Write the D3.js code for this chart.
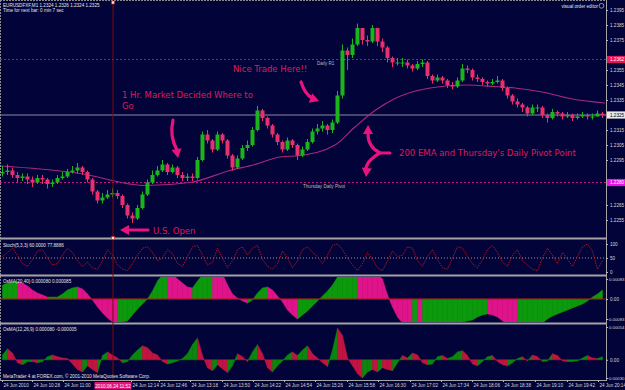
<!DOCTYPE html>
<html>
<head>
<meta charset="utf-8">
<script src="https://cdn.jsdelivr.net/npm/d3@7"></script>
<style>
  body { margin: 0; background: #020338; }
  svg { display: block; }
  .axis text { fill: #d8d8d8; font-family: "Liberation Sans", Arial, sans-serif; font-size: 4.6px; }
  .axis line { stroke: #b8b8b8; }
  .axis .domain { display: none; }
  .small { fill: #e4e4e4; font-family: "Liberation Sans", Arial, sans-serif; font-size: 4.6px; }
  .note { fill: #e0175a; font-family: "DejaVu Sans", Verdana, sans-serif; font-size: 8.5px; }
</style>
</head>
<body>
<div id="chart"></div>
<script>
// EURUSD M1, 24 Jun 2010 - one entry per 5 minute slot
const firstOpen = 1.2286;
const barClose = [
  1.2287, 1.2288, 1.2285, 1.2283, 1.2284, 1.2282, 1.2280, 1.2283, 1.2282, 1.2279,
  1.2280, 1.2283, 1.2284, 1.2287, 1.2288, 1.2290, 1.2287, 1.2282, 1.2274, 1.2268,
  1.2270, 1.2272, 1.2273, 1.2271, 1.2265, 1.2258, 1.2256, 1.2263, 1.2272, 1.2280,
  1.2285, 1.2288, 1.2292, 1.2287, 1.2290, 1.2285, 1.2283, 1.2284, 1.2283, 1.2295,
  1.2312, 1.2308, 1.2302, 1.2312, 1.2308, 1.2298, 1.2290, 1.2296, 1.2303, 1.2305,
  1.2315, 1.2328, 1.2323, 1.2318, 1.2312, 1.2307, 1.2302, 1.2308, 1.2305, 1.2298,
  1.2302, 1.2307, 1.2314, 1.2316, 1.2318, 1.2315, 1.2320, 1.2338, 1.2368, 1.2365,
  1.2372, 1.2383, 1.2375, 1.2374, 1.2383, 1.2374, 1.2370, 1.2363, 1.2360, 1.2360,
  1.2360, 1.2358, 1.2356, 1.2359, 1.2360, 1.2351, 1.2348, 1.2350, 1.2348, 1.2345,
  1.2344, 1.2348, 1.2356, 1.2355, 1.2350, 1.2349, 1.2347, 1.2346, 1.2347, 1.2348,
  1.2343, 1.2338, 1.2334, 1.2332, 1.2330, 1.2326, 1.2330, 1.2330, 1.2325, 1.2323,
  1.2327, 1.2326, 1.2324, 1.2325, 1.2323, 1.2324, 1.2325, 1.2324, 1.2324, 1.2326,
  1.2325
];
const barHigh = [
  1.2291, 1.2292, 1.2290, 1.2287, 1.2286, 1.2286, 1.2284, 1.2285, 1.2285, 1.2283,
  1.2282, 1.2285, 1.2287, 1.2289, 1.2291, 1.2293, 1.2291, 1.2288, 1.2283, 1.2275,
  1.2273, 1.2275, 1.2276, 1.2275, 1.2272, 1.2266, 1.2260, 1.2265, 1.2274, 1.2282,
  1.2288, 1.2291, 1.2295, 1.2293, 1.2292, 1.2291, 1.2287, 1.2286, 1.2286, 1.2297,
  1.2314, 1.2315, 1.2309, 1.2314, 1.2313, 1.2309, 1.2299, 1.2298, 1.2305, 1.2308,
  1.2317, 1.2331, 1.2329, 1.2324, 1.2319, 1.2313, 1.2308, 1.2310, 1.2309, 1.2306,
  1.2304, 1.2309, 1.2316, 1.2319, 1.2321, 1.2319, 1.2322, 1.2341, 1.2372, 1.2370,
  1.2376, 1.2386, 1.2383, 1.2378, 1.2385, 1.2382, 1.2376, 1.2371, 1.2364, 1.2363,
  1.2363, 1.2362, 1.2359, 1.2361, 1.2362, 1.2361, 1.2352, 1.2352, 1.2351, 1.2349,
  1.2347, 1.2350, 1.2359, 1.2358, 1.2356, 1.2352, 1.2350, 1.2348, 1.2349, 1.2351,
  1.2349, 1.2344, 1.2339, 1.2336, 1.2333, 1.2331, 1.2332, 1.2332, 1.2331, 1.2326,
  1.2329, 1.2328, 1.2327, 1.2327, 1.2326, 1.2326, 1.2327, 1.2326, 1.2326, 1.2328,
  1.2327
];
const barLow = [
  1.2284, 1.2285, 1.2283, 1.2280, 1.2281, 1.2279, 1.2277, 1.2279, 1.2279, 1.2276,
  1.2277, 1.2279, 1.2282, 1.2283, 1.2286, 1.2286, 1.2285, 1.2280, 1.2272, 1.2266,
  1.2266, 1.2269, 1.2270, 1.2269, 1.2263, 1.2256, 1.2253, 1.2255, 1.2262, 1.2271,
  1.2279, 1.2284, 1.2287, 1.2285, 1.2286, 1.2283, 1.2281, 1.2281, 1.2281, 1.2282,
  1.2294, 1.2306, 1.2300, 1.2301, 1.2306, 1.2296, 1.2288, 1.2289, 1.2295, 1.2301,
  1.2304, 1.2314, 1.2321, 1.2316, 1.2310, 1.2305, 1.2300, 1.2301, 1.2303, 1.2295,
  1.2297, 1.2301, 1.2306, 1.2312, 1.2314, 1.2312, 1.2313, 1.2319, 1.2336, 1.2355,
  1.2363, 1.2371, 1.2372, 1.2371, 1.2373, 1.2371, 1.2367, 1.2360, 1.2357, 1.2358,
  1.2357, 1.2356, 1.2354, 1.2355, 1.2357, 1.2349, 1.2346, 1.2347, 1.2346, 1.2343,
  1.2342, 1.2343, 1.2347, 1.2353, 1.2348, 1.2347, 1.2345, 1.2344, 1.2345, 1.2346,
  1.2341, 1.2336, 1.2332, 1.2330, 1.2327, 1.2324, 1.2325, 1.2327, 1.2323, 1.2320,
  1.2322, 1.2324, 1.2322, 1.2323, 1.2321, 1.2322, 1.2323, 1.2322, 1.2322, 1.2324,
  1.2323
];

// 200 EMA, sampled where it could be read
const emaBar = [0, 8, 16, 29, 38, 46, 51, 56, 60, 67, 71, 75, 79, 86, 93, 99, 103, 109, 114, 121];
const emaValue = [1.2291, 1.2289, 1.2286, 1.2278, 1.2280, 1.2288, 1.2292, 1.2297, 1.2298, 1.2305,
  1.2317, 1.2328, 1.2336, 1.2343, 1.2345, 1.2344, 1.2343, 1.2340, 1.2336, 1.2333];

const dailyR1 = 1.2362;
const dailyPivot = 1.2280;

// Stoch(5,3,3) main line
const stochValue = [
  55, 70, 85, 60, 30, 20, 45, 75, 80, 50,
  25, 30, 60, 85, 70, 40, 20, 35, 15, 10,
  40, 80, 60, 25, 10, 5, 30, 60, 85, 90,
  70, 40, 50, 80, 65, 30, 20, 55, 90, 95,
  60, 25, 35, 85, 50, 15, 40, 80, 90, 60,
  85, 95, 45, 20, 10, 30, 75, 50, 15, 40,
  80, 90, 70, 55, 30, 60, 95, 100, 80, 50,
  25, 5, 30, 70, 45, 15, 5, 40, 75, 55,
  60, 90, 85, 40, 20, 55, 80, 45, 15, 10,
  50, 90, 85, 55, 30, 15, 45, 80, 95, 70,
  35, 20, 60, 80, 40, 25, 10, 5, 50, 85,
  60, 30, 70, 45, 20, 55, 90, 100, 75, 10,
  40
];

// OsMA(20,40)
const osmaSlow = [
  58e-5, 66e-5, 71e-5, 71e-5, 66e-5, 54e-5, 37e-5, 25e-5, 17e-5, 8e-5,
  8e-5, 8e-5, 21e-5, 37e-5, 46e-5, 50e-5, 42e-5, 21e-5, -4e-5, -33e-5,
  -58e-5, -79e-5, -95e-5, -100e-5, -95e-5, -91e-5, -66e-5, -42e-5, -21e-5, 0,
  33e-5, 75e-5, 100e-5, 108e-5, 104e-5, 83e-5, 66e-5, 50e-5, 46e-5, 75e-5,
  100e-5, 108e-5, 112e-5, 108e-5, 104e-5, 58e-5, 21e-5, 4e-5, -8e-5, -17e-5,
  -4e-5, 25e-5, 46e-5, 50e-5, 37e-5, 12e-5, -12e-5, -46e-5, -66e-5, -83e-5,
  -66e-5, -50e-5, -29e-5, -8e-5, 12e-5, 33e-5, 58e-5, 91e-5, 108e-5, 116e-5,
  125e-5, 129e-5, 125e-5, 120e-5, 112e-5, 104e-5, 83e-5, 17e-5, -33e-5, -75e-5,
  -100e-5, -116e-5, -125e-5, -125e-5, -129e-5, -129e-5, -125e-5, -125e-5, -120e-5, -116e-5,
  -104e-5, -100e-5, -95e-5, -91e-5, -87e-5, -75e-5, -66e-5, -62e-5, -66e-5, -75e-5,
  -91e-5, -108e-5, -116e-5, -120e-5, -116e-5, -112e-5, -112e-5, -108e-5, -100e-5, -83e-5,
  -71e-5, -62e-5, -54e-5, -46e-5, -37e-5, -29e-5, -21e-5, -8e-5, 8e-5, 21e-5,
  37e-5
];

// OsMA(12,26,9)
const osmaFast = [
  8e-5, 18e-5, 11e-5, -5e-5, -8e-5, -3e-5, -3e-5, -5e-5, -3e-5, 5e-5,
  8e-5, 5e-5, 3e-5, 2e-5, -7e-5, -16e-5, -20e-5, -10e-5, -16e-5, -21e-5,
  7e-5, 13e-5, 8e-5, 3e-5, -5e-5, -3e-5, 8e-5, 16e-5, 23e-5, 20e-5,
  11e-5, 8e-5, -3e-5, -7e-5, -5e-5, -2e-5, 2e-5, 10e-5, 25e-5, 36e-5,
  7e-5, -13e-5, -18e-5, -8e-5, -15e-5, -21e-5, -10e-5, 10e-5, 5e-5, -3e-5,
  13e-5, 25e-5, 10e-5, -13e-5, -20e-5, -10e-5, -2e-5, 8e-5, 13e-5, 7e-5,
  16e-5, 23e-5, 10e-5, 3e-5, -5e-5, -11e-5, 16e-5, 52e-5, 40e-5, 3e-5,
  -10e-5, -23e-5, -30e-5, -20e-5, -16e-5, -20e-5, -13e-5, -16e-5, -18e-5, -5e-5,
  7e-5, 3e-5, 11e-5, 8e-5, -5e-5, -8e-5, -7e-5, 5e-5, 7e-5, 2e-5,
  5e-5, 13e-5, 15e-5, 7e-5, -7e-5, -10e-5, -3e-5, 5e-5, 7e-5, -3e-5,
  -8e-5, -10e-5, -5e-5, 2e-5, 5e-5, -2e-5, 8e-5, 5e-5, -3e-5, -2e-5,
  10e-5, 7e-5, -2e-5, -3e-5, -3e-5, -2e-5, 3e-5, 7e-5, 3e-5, 2e-5,
  5e-5
];

const priceTicks = [1.2395, 1.2385, 1.2375, 1.2365, 1.2355, 1.2345, 1.2335, 1.2325,
  1.2315, 1.2305, 1.2295, 1.2285, 1.2275, 1.2265, 1.2255];
const timeLabels = ["24 Jun 2010", "24 Jun 10:28", "24 Jun 11:00", "24 Jun 12:14", "24 Jun 12:46",
  "24 Jun 13:18", "24 Jun 13:50", "24 Jun 14:22", "24 Jun 14:54", "24 Jun 15:26", "24 Jun 15:58",
  "24 Jun 16:30", "24 Jun 17:02", "24 Jun 17:34", "24 Jun 18:06", "24 Jun 18:38", "24 Jun 19:10",
  "24 Jun 19:42", "24 Jun 20:14"];
const timeTickBar = [0.4, 6.4, 12.6, 26.2, 31.8, 38, 44.4, 50.6, 56.8, 63, 69.4, 75.6, 82, 88.2,
  94.4, 100.6, 107, 113.4, 119.6];
const crossBar = 22.6;
const crossLabel = "2010.06.24 11:52";

// ---- layout ----
const W = 625, H = 390, axisX = 606;
const mainTop = 2, mainBottom = 237;
const stochTop = 240, stochBottom = 274;
const slowTop = 277, slowBottom = 322;
const fastTop = 325, fastBottom = 379;

const upColor = "#1cb41c", downColor = "#e8306e";

const svg = d3.select("#chart").append("svg")
  .attr("width", W)
  .attr("height", H);

svg.append("rect").attr("width", W).attr("height", H).attr("fill", "#020338");

const defs = svg.append("defs");
function clip(id, y0, y1) {
  defs.append("clipPath").attr("id", id)
    .append("rect").attr("x", 0).attr("y", y0).attr("width", axisX).attr("height", y1 - y0);
  return "url(#" + id + ")";
}

// scales
const x = d3.scaleLinear().domain([0, barClose.length]).range([0, 605]);
const yPrice = d3.scaleLinear().domain([1.2255, 1.2395]).range([220, 10]);
const yStoch = d3.scaleLinear().domain([0, 100]).range([272, 244]);
const ySlow = d3.scaleLinear().domain([-0.00083, 0.00083]).range([319, 279]);
const yFast = d3.scaleLinear().domain([-0.0003, 0.00054]).range([378, 327]);

// ---- main price panel ----
const mainG = svg.append("g").attr("clip-path", clip("clipMain", mainTop, mainBottom));

// pivot levels
mainG.append("line")
  .attr("x1", 0).attr("x2", axisX)
  .attr("y1", yPrice(dailyR1)).attr("y2", yPrice(dailyR1))
  .attr("stroke", "#c81818").attr("stroke-dasharray", "2,2");
mainG.append("line")
  .attr("x1", 0).attr("x2", axisX)
  .attr("y1", yPrice(dailyPivot)).attr("y2", yPrice(dailyPivot))
  .attr("stroke", "#c8147c").attr("stroke-dasharray", "2,2");

// bid line
const lastClose = barClose[barClose.length - 1];
mainG.append("line")
  .attr("x1", 0).attr("x2", axisX)
  .attr("y1", yPrice(lastClose)).attr("y2", yPrice(lastClose))
  .attr("stroke", "#8c8ca4");

// 200 EMA
mainG.append("path")
  .datum(emaBar.map((b, i) => [b, emaValue[i]]))
  .attr("fill", "none")
  .attr("stroke", "#a8287e")
  .attr("stroke-width", 1.1)
  .attr("d", d3.line().x(d => x(d[0])).y(d => yPrice(d[1])).curve(d3.curveMonotoneX));

// candles
var bars = barClose.map((c, i) => ({
  i: i, o: i ? barClose[i - 1] : firstOpen, h: barHigh[i], l: barLow[i], c: c
}));
mainG.selectAll(".wick")
  .data(bars)
  .enter().append("line")
  .attr("class", "wick")
  .attr("x1", d => x(d.i + 0.5)).attr("x2", d => x(d.i + 0.5))
  .attr("y1", d => yPrice(d.h)).attr("y2", d => yPrice(d.l))
  .attr("stroke", d => d.c >= d.o ? upColor : downColor);
mainG.selectAll(".body")
  .data(bars)
  .enter().append("rect")
  .attr("class", "body")
  .attr("x", d => x(d.i + 0.5) - 2)
  .attr("width", 4)
  .attr("y", d => yPrice(Math.max(d.o, d.c)))
  .attr("height", d => Math.max(1, Math.abs(yPrice(d.o) - yPrice(d.c))))
  .attr("fill", d => d.c >= d.o ? upColor : downColor);

// level captions
svg.append("text").attr("class", "small")
  .attr("x", x(63.4)).attr("y", yPrice(dailyR1) + 5.5)
  .style("fill", "#b8b8b8")
  .text("Daily R1");
svg.append("text").attr("class", "small")
  .attr("x", x(60.6)).attr("y", yPrice(dailyPivot) + 5.5)
  .style("fill", "#b8b8b8")
  .text("Thursday  Daily Pivot");

// ---- stochastic ----
const stochG = svg.append("g").attr("clip-path", clip("clipStoch", stochTop, stochBottom));
stochG.append("line")
  .attr("x1", 0).attr("x2", axisX)
  .attr("y1", yStoch(50)).attr("y2", yStoch(50))
  .attr("stroke", "#9a9a9a").attr("stroke-dasharray", "1,2");
stochG.append("path")
  .datum(stochValue)
  .attr("fill", "none")
  .attr("stroke", "#b0141e")
  .attr("stroke-dasharray", "1.5,1")
  .attr("d", d3.line().x((d, i) => x(i + 0.5)).y(d => yStoch(d)));

// ---- OsMA panels: coloured by direction, segment by segment ----
function drawOsma(values, yScale, clipId, top, bottom, rise, fall) {
  const g = svg.append("g").attr("clip-path", clip(clipId, top, bottom));
  const area = d3.area()
    .x(d => x(d[0] + 0.5))
    .y0(yScale(0))
    .y1(d => yScale(d[1]));
  const segs = d3.pairs(values.map((v, i) => [i, v]));
  g.selectAll("path")
    .data(segs)
    .enter().append("path")
    .attr("d", d => area(d))
    .attr("fill", d => d[1][1] >= d[0][1] ? rise : fall)
    .attr("stroke", d => d[1][1] >= d[0][1] ? rise : fall)
    .attr("stroke-width", 0.5);
  return g;
}

const slowG = drawOsma(osmaSlow, ySlow, "clipSlow", slowTop, slowBottom, "#0c9a0c", "#e0148a");
slowG.append("line")
  .attr("x1", 0).attr("x2", axisX)
  .attr("y1", ySlow(0)).attr("y2", ySlow(0))
  .attr("stroke", "#b01010");

drawOsma(osmaFast, yFast, "clipFast", fastTop, fastBottom, "#0d860d", "#c21440");

// ---- frame ----
svg.append("line").attr("x1", 0).attr("x2", axisX).attr("y1", 0.5).attr("y2", 0.5)
  .attr("stroke", "#8a8a8a").attr("stroke-dasharray", "2,1");
svg.append("line").attr("x1", 0.5).attr("x2", 0.5).attr("y1", 0).attr("y2", 380)
  .attr("stroke", "#8a8a8a").attr("stroke-dasharray", "2,1");
[238.5, 275.5, 323.5].forEach(yy => {
  svg.append("line").attr("x1", 0).attr("x2", axisX).attr("y1", yy).attr("y2", yy)
    .attr("stroke", "#a4a4a4").attr("stroke-width", 2);
});
svg.append("line").attr("x1", 0).attr("x2", axisX).attr("y1", 380.5).attr("y2", 380.5)
  .attr("stroke", "#a4a4a4");
svg.append("line").attr("x1", axisX + 0.5).attr("x2", axisX + 0.5).attr("y1", 0).attr("y2", 381)
  .attr("stroke", "#a4a4a4");

// ---- axes ----
const boxPrices = [dailyR1, barClose[barClose.length - 1], dailyPivot];
svg.append("g")
  .attr("class", "axis")
  .attr("transform", "translate(" + axisX + ",0)")
  .call(d3.axisRight(yPrice)
    .tickValues(priceTicks.filter(p => boxPrices.every(b => Math.abs(yPrice(p) - yPrice(b)) > 8)))
    .tickSize(2).tickPadding(2)
    .tickFormat(d3.format(".4f")));

svg.append("g").attr("class", "axis")
  .attr("transform", "translate(" + axisX + ",0)")
  .call(d3.axisRight(yStoch).tickValues([100, 50, 0]).tickSize(2).tickPadding(2));

// oscillator scales: the long labels are right-aligned so they stay inside the window
function oscAxis(scale, values) {
  const g = svg.append("g").attr("class", "axis")
    .attr("transform", "translate(" + axisX + ",0)")
    .call(d3.axisRight(scale).tickValues(values).tickSize(2).tickPadding(2)
      .tickFormat(d => d === 0 ? "0.00" : d3.format(".5f")(d)));
  g.selectAll("text")
    .filter(d => d !== 0)
    .attr("x", W - axisX - 0.5)
    .attr("text-anchor", "end")
    .style("font-size", "4.3px");
}
oscAxis(ySlow, [0.00083, 0, -0.00083]);
oscAxis(yFast, [0.00054, 0, -0.0003]);

var xAxis = svg.append("g").attr("class", "axis")
  .attr("transform", "translate(0,380)")
  .call(d3.axisBottom(x).tickValues(timeTickBar).tickSize(2).tickPadding(1.5)
    .tickFormat((d, i) => timeLabels[i]));
xAxis.selectAll("text").attr("text-anchor", "start").attr("dx", "0.2em");

// price boxes on the right scale
function priceBox(p, fill, color) {
  const yy = yPrice(p);
  svg.append("rect").attr("x", axisX + 1).attr("y", yy - 3.6)
    .attr("width", W - axisX - 1).attr("height", 7.2).attr("fill", fill);
  svg.append("text").attr("class", "small")
    .attr("x", axisX + 4).attr("y", yy + 1.7)
    .style("fill", color)
    .text(d3.format(".4f")(p));
}
priceBox(dailyR1, "#e8145a", "#ffffff");
priceBox(dailyPivot, "#e614e6", "#ffffff");
priceBox(barClose[barClose.length - 1], "#e8e8e8", "#000000");

// ---- crosshair ----
const cx = x(crossBar);
svg.append("line").attr("x1", cx).attr("x2", cx).attr("y1", 2).attr("y2", 380)
  .attr("stroke", "#7e0c0c");
[2.5, 238].forEach(yy => {
  svg.append("rect").attr("x", cx - 1.5).attr("y", yy - 1.5).attr("width", 3).attr("height", 3)
    .attr("fill", "#ffe0e0").attr("stroke", "#d01010").attr("stroke-width", 0.6);
});
svg.append("rect").attr("x", cx - 18.5).attr("y", 382).attr("width", 37).attr("height", 7.5)
  .attr("fill", "#e0147a");
svg.append("text").attr("class", "small")
  .attr("x", cx).attr("y", 387.6).attr("text-anchor", "middle")
  .style("fill", "#ffffff").text(crossLabel);

// ---- header texts ----
svg.append("text").attr("class", "small").attr("x", 3).attr("y", 6.5)
  .text("EURUSDFXF,M1  1.2324 1.2326 1.2324 1.2325");
svg.append("text").attr("class", "small").attr("x", 3).attr("y", 11.8)
  .text("Time for next bar: 0 min 7 sec");
svg.append("text").attr("class", "small").attr("x", 598).attr("y", 7.5)
  .attr("text-anchor", "end").text("visual order editor");
svg.append("circle").attr("cx", 601.5).attr("cy", 5.8).attr("r", 2.4)
  .attr("fill", "none").attr("stroke", "#c8c8c8").attr("stroke-width", 0.7);

svg.append("text").attr("class", "small").attr("x", 3).attr("y", 246.5)
  .text("Stoch(5,3,3) 60.0000 77.8886");
svg.append("text").attr("class", "small").attr("x", 3).attr("y", 282.5)
  .text("OsMA(20,40) 0.000080 0.000085");
svg.append("text").attr("class", "small").attr("x", 3).attr("y", 330.5)
  .text("OsMA(12,26,9) 0.000080 -0.000005");
svg.append("text").attr("class", "small").attr("x", 3).attr("y", 377.5)
  .text("MetaTrader 4 at FOREX.com, \u00a9 2001-2010 MetaQuotes Software Corp.");

// ---- annotations (anchored in bar / price units) ----
const notes = [
  { text: "1 Hr. Market Decided Where to", bar: 24.4, price: 1.23363 },
  { text: "Go", bar: 24.4, price: 1.2329 },
  { text: "Nice Trade Here!!", bar: 46.6, price: 1.23537 },
  { text: "U.S. Open", bar: 30.6, price: 1.22457 },
  { text: "200 EMA and Thursday's Daily Pivot Point", bar: 79.8, price: 1.22977 }
];
svg.selectAll(".note")
  .data(notes)
  .enter().append("text")
  .attr("class", "note")
  .attr("x", d => x(d.bar))
  .attr("y", d => yPrice(d.price))
  .text(d => d.text);

const arrows = [
  { bar: 35.6, price: 1.229633, shaft: "M-5,-38 C-8,-25 -5,-15 -1,-8", tip: [0, 0], angle: 80 },
  { bar: 63.8, price: 1.233433, shaft: "M-18,-19 C-15,-10 -11,-5 -7,-3", tip: [0, 0], angle: 20 },
  { bar: 24, price: 1.224833, shaft: "M28,0 L7,0", tip: [0, 0], angle: 180 },
  { bar: 76, price: 1.229967, shaft: "M10,0 L0,0 C-6,-3 -12,-9 -12,-19", tip: [-12, -28], angle: -90 },
  { bar: 76, price: 1.229967, shaft: "M0,0 C-6,3 -13,9 -14,15", tip: [-14, 24], angle: 95 }
];
const arrowColor = "#e8137f";
arrows.forEach(a => {
  const g = svg.append("g")
    .attr("transform", "translate(" + x(a.bar) + "," + yPrice(a.price) + ")");
  g.append("path").attr("d", a.shaft)
    .attr("fill", "none").attr("stroke", arrowColor)
    .attr("stroke-width", 3.2).attr("stroke-linecap", "round");
  g.append("polygon")
    .attr("points", "0,0 -9,-5 -9,5")
    .attr("fill", arrowColor)
    .attr("transform", "translate(" + a.tip[0] + "," + a.tip[1] + ") rotate(" + a.angle + ")");
});
</script>
</body>
</html>
